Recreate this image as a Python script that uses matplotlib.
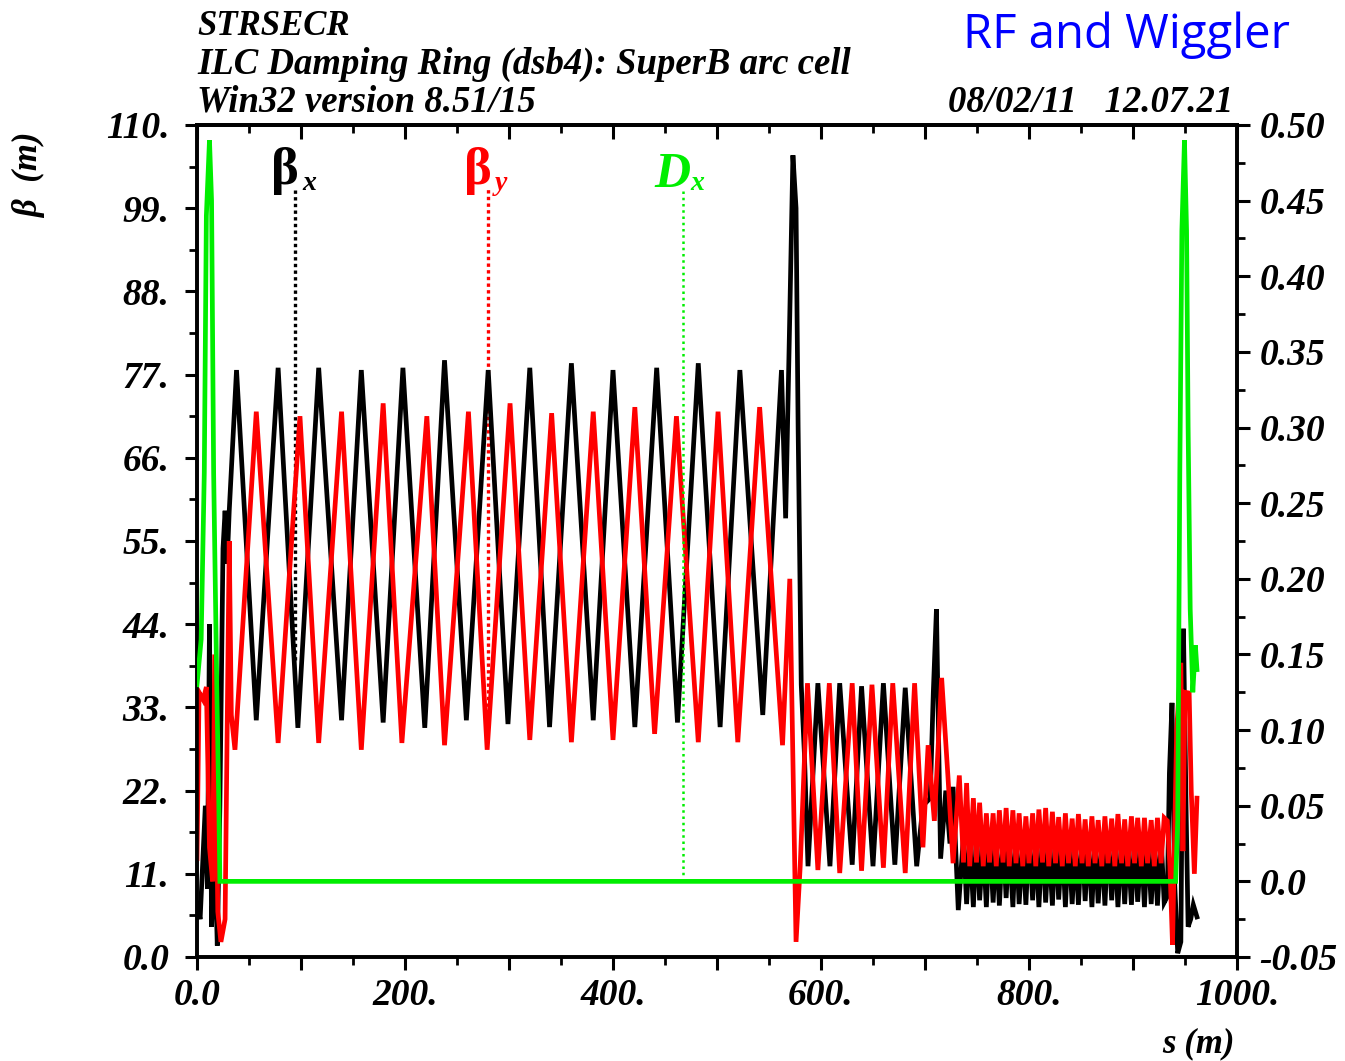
import numpy as np
import matplotlib
matplotlib.use('Agg')
import matplotlib.pyplot as plt
from matplotlib.ticker import MultipleLocator, FixedLocator

# ---- data ----
# beta_x (black): injection / arc / RF / wiggler / end
bx_s = [0, 3, 6, 8, 10, 12, 14, 17, 19.5, 22, 25, 27, 29, 31,
        38, 57, 78, 97, 117, 139, 158, 179, 198, 219, 238, 259, 280, 299,
        320, 339, 360, 381, 400, 421, 442, 462, 482, 503, 522, 544, 562,
        566, 570, 573, 576, 578, 581, 584, 587.5,
        597, 608.6, 618, 630, 639, 650, 660, 671, 681, 692,
        698, 705, 708, 711, 715, 720, 724, 727, 732]
bx_b = [7, 5, 14, 20, 9, 44, 4, 15, 1.5, 20, 54, 59, 52, 59,
        77.6, 31.3, 77.9, 30.3, 77.9, 31.3, 77.6, 31.0, 77.9, 30.3, 78.9, 31.3, 77.6, 30.8,
        77.9, 30.4, 78.5, 31.3, 77.6, 30.4, 77.9, 31.0, 78.5, 30.4, 77.6, 32.0, 77.6,
        58, 85, 106, 99, 70, 36, 27, 12,
        36.2, 12.0, 36.2, 12.2, 35.8, 12.0, 36.2, 12.2, 35.6, 12.0,
        20, 21, 35, 46, 13, 22, 15, 22.5, 6.2]

# beta_y (red)
by_s = [0, 2, 6, 9, 12, 15, 17, 20, 23, 27, 31, 33,
        36.5, 57, 78, 99, 117, 139, 158, 179, 197, 221, 238, 261, 279, 301,
        320, 341, 360, 381, 400, 421, 440, 461, 482, 501, 520, 541, 563,
        570, 576, 580,
        587, 597, 608, 618, 630, 639, 649, 660, 669, 681, 690,
        698, 703, 709, 716, 722, 727, 733]
by_b = [13, 35, 34, 35.7, 14.5, 10, 40, 6, 2, 5, 55, 32,
        27.4, 72.1, 28.3, 71.5, 28.3, 72.1, 27.4, 73.2, 28.3, 71.5, 28.0, 72.1, 27.4, 73.2,
        28.7, 71.9, 28.4, 72.1, 28.7, 72.7, 29.5, 71.5, 28.4, 72.1, 28.4, 72.7, 28.0,
        50, 2, 12,
        36.2, 11.5, 36.2, 11.1, 36.2, 11.4, 36.0, 11.8, 36.2, 11.1, 36.2,
        14.5, 28, 18, 36.9, 24, 12.4, 24]

# wiggler section vertices (shared s positions)
wig_s = [737, 740, 743, 746.5, 749.5, 752.5, 756, 759, 762, 765.5,
         768.5, 771.5, 775, 778, 781, 784.5, 787.5, 790.5, 794, 797,
         800, 803.5, 806.5, 809.5, 813, 816, 819, 822.5, 825.5, 828.5,
         832, 835, 838, 841.5, 844.5, 847.5, 851, 854, 857, 860.5,
         863.5, 866.5, 870, 873, 876, 879.5, 882.5, 885.5, 889, 892,
         895, 898.5, 901.5, 904.5, 908, 911, 914, 917.5, 920.5, 923.5,
         927, 930]
wig_bx = [16.0, 7.0, 15.5, 6.6, 16.4, 7.5, 15.0, 6.6, 16.4, 7.2,
          15.2, 6.8, 16.0, 7.8, 15.5, 6.6, 16.4, 7.0, 15.0, 6.9,
          16.2, 7.5, 15.4, 6.6, 16.0, 7.2, 15.0, 6.8, 16.4, 7.6,
          15.2, 6.6, 15.8, 7.0, 15.0, 6.9, 16.0, 7.4, 15.3, 6.6,
          15.8, 7.1, 15.0, 6.8, 16.0, 7.5, 15.2, 6.6, 15.6, 7.0,
          15.0, 6.9, 15.8, 7.3, 15.1, 6.6, 15.6, 7.0, 15.0, 6.8,
          15.8, 7.2]
wig_by = [12.5, 23.0, 12.0, 21.0, 12.5, 20.4, 12.0, 19.0, 12.5, 19.0,
          12.0, 19.4, 12.5, 19.7, 12.0, 19.4, 12.4, 19.0, 12.0, 18.6,
          12.4, 19.0, 12.0, 19.5, 12.5, 19.7, 12.0, 19.2, 12.4, 18.5,
          12.0, 19.0, 12.4, 18.3, 12.0, 18.9, 12.4, 18.2, 12.0, 18.6,
          12.4, 18.1, 12.0, 18.6, 12.4, 18.3, 12.0, 18.9, 12.4, 18.2,
          12.0, 18.6, 12.4, 18.4, 12.0, 18.4, 12.4, 18.1, 12.0, 18.4,
          12.4, 18.4]

# end of the line (after the wiggler)
end_bx_s = [933, 935, 937.5, 940, 943, 946, 948.5, 951, 953, 955.5, 958, 961.5]
end_bx_b = [8, 24.3, 33.6, 10, 0.5, 2, 43.4, 20, 4, 5, 6.9, 5.3]
end_by_s = [933, 935.5, 938, 942, 946, 948, 950, 954, 956, 959, 961.5]
end_by_b = [18, 12, 1.6, 30, 38.9, 14, 35, 34.9, 22, 11, 21]

# dispersion D_x (green, right axis)
dx_s = [0, 4, 7, 9, 12, 14, 16, 19, 21, 22,
        941, 943, 945, 947, 949.5, 951.5, 953, 955, 957.5, 960, 961.5]
dx_v = [0.13, 0.16, 0.27, 0.44, 0.49, 0.45, 0.27, 0.13, 0.05, 0.0,
        0.0, 0.04, 0.27, 0.43, 0.49, 0.43, 0.30, 0.18, 0.125, 0.156, 0.14]

# label marker lines: (s, value at curve)
mark_bx = (94.2, 39.3)
mark_by = (280, 32.3)
mark_dx = (467.6, 0.0)

left_ticks = [0, 11, 22, 33, 44, 55, 66, 77, 88, 99, 110]
left_labels = ['0.0', '11.', '22.', '33.', '44.', '55.', '66.', '77.', '88.', '99.', '110.']
right_ticks = [-0.05, 0.0, 0.05, 0.10, 0.15, 0.20, 0.25, 0.30, 0.35, 0.40, 0.45, 0.50]
right_labels = ['-0.05', '0.0', '0.05', '0.10', '0.15', '0.20', '0.25', '0.30',
                '0.35', '0.40', '0.45', '0.50']
x_ticks = [0, 100, 200, 300, 400, 500, 600, 700, 800, 900, 1000]
x_labels = ['0.0', '', '200.', '', '400.', '', '600.', '', '800.', '', '1000.']

# ---- plotting ----
W, H = 1345, 1061
fig = plt.figure(figsize=(W / 100, H / 100), dpi=100)
fig.patch.set_facecolor('white')

serif = 'Liberation Serif'
tfont = dict(family=serif, weight='bold', style='italic')

ax = fig.add_axes([197 / W, 1 - 957 / H, (1237 - 197) / W, (957 - 125) / H])
ax.set_xlim(0, 1000)
ax.set_ylim(0, 110)
ax2 = ax.twinx()
ax2.set_ylim(-0.05, 0.50)

lw = 3.4
bx_all_s = bx_s + wig_s + end_bx_s
bx_all_b = bx_b + wig_bx + end_bx_b
by_all_s = by_s + wig_s + end_by_s
by_all_b = by_b + wig_by + end_by_b
ax.plot(bx_all_s, bx_all_b, color='black', lw=lw, solid_joinstyle='miter', zorder=3)
ax.plot(by_all_s, by_all_b, color='#ff0000', lw=lw, solid_joinstyle='miter', zorder=4)
ax2.plot(dx_s, dx_v, color='#00ee00', lw=lw, solid_joinstyle='miter', zorder=5)

# curve labels with dotted marker lines
lab_top = 101.5
ax.plot([mark_bx[0], mark_bx[0]], [mark_bx[1], lab_top], color='black', lw=2.4, ls=(0, (1, 1)))
ax.plot([mark_by[0], mark_by[0]], [mark_by[1], lab_top], color='#ff0000', lw=2.4, ls=(0, (1, 1)))
dx_top = -0.05 + lab_top / 110 * 0.55
ax2.plot([mark_dx[0], mark_dx[0]], [mark_dx[1], dx_top], color='#00ee00', lw=1.8, ls=(0, (1, 1.5)))

ax.text(84.6, 102.2, 'β', color='black', fontsize=38, family=serif, weight='bold',
        ha='center', va='baseline')
ax.text(101, 101.4, 'x', color='black', fontsize=20, **tfont, ha='left', va='baseline')
ax.text(270, 102.2, 'β', color='#ff0000', fontsize=38, family=serif, weight='bold',
        ha='center', va='baseline')
ax.text(286, 101.4, 'y', color='#ff0000', fontsize=20, **tfont, ha='left', va='baseline')
ax.text(440, 101.8, 'D', color='#00ee00', fontsize=36, **tfont, ha='left', va='baseline')
ax.text(474, 101.4, 'x', color='#00ee00', fontsize=20, **tfont, ha='left', va='baseline')

# axes, ticks
for a in (ax, ax2):
    for sp in a.spines.values():
        sp.set_linewidth(2.6)

ax.xaxis.set_major_locator(FixedLocator(x_ticks))
ax.set_xticklabels(x_labels)
ax.xaxis.set_minor_locator(MultipleLocator(50))
ax.set_yticks(left_ticks)
ax.set_yticklabels(left_labels)
ax.yaxis.set_minor_locator(MultipleLocator(5.5))
ax.tick_params(axis='both', which='major', direction='out', length=9, width=2.2, pad=6,
               labelsize=27)
ax.tick_params(axis='both', which='minor', direction='out', length=6, width=2.0)
ax.tick_params(axis='y', which='major', pad=11)

top = ax.secondary_xaxis('top')
top.xaxis.set_major_locator(FixedLocator(x_ticks))
top.xaxis.set_minor_locator(MultipleLocator(50))
top.tick_params(which='major', direction='in', length=10, width=2.2, labeltop=False)
top.tick_params(which='minor', direction='in', length=6, width=2.0)
top.spines['top'].set_linewidth(2.6)

ax2.set_yticks(right_ticks)
ax2.set_yticklabels(right_labels)
ax2.yaxis.set_minor_locator(MultipleLocator(0.025))
ax2.tick_params(axis='y', which='major', direction='out', length=9, width=2.2, pad=7,
                labelsize=27)
ax2.tick_params(axis='y', which='minor', direction='out', length=6, width=2.0)

for lab in ax.get_xticklabels() + ax.get_yticklabels() + ax2.get_yticklabels():
    lab.set_fontfamily(serif)
    lab.set_fontweight('bold')
    lab.set_fontstyle('italic')

# header texts
fig.text(197 / W, 1 - 35 / H, 'STRSECR', fontsize=25, **tfont, ha='left', va='baseline')
fig.text(197 / W, 1 - 74 / H, 'ILC Damping Ring (dsb4): SuperB arc cell', fontsize=26.5,
         **tfont, ha='left', va='baseline')
fig.text(197 / W, 1 - 112 / H, 'Win32 version 8.51/15', fontsize=26.5, **tfont,
         ha='left', va='baseline')
fig.text(1233 / W, 1 - 112 / H, '08/02/11   12.07.21', fontsize=26.5, **tfont,
         ha='right', va='baseline')
fig.text(1290 / W, 1 - 48 / H, 'RF and Wiggler', fontsize=34, color='#0000ff',
         family='Open Sans', ha='right', va='baseline')

fig.text(30 / W, 1 - 175 / H, 'β  (m)', fontsize=25, **tfont, rotation=90,
         ha='center', va='center')
fig.text(1235 / W, 1 - 1052 / H, 's (m)', fontsize=25, **tfont, ha='right', va='baseline')

fig.savefig('out.png', dpi=100, facecolor='white')
